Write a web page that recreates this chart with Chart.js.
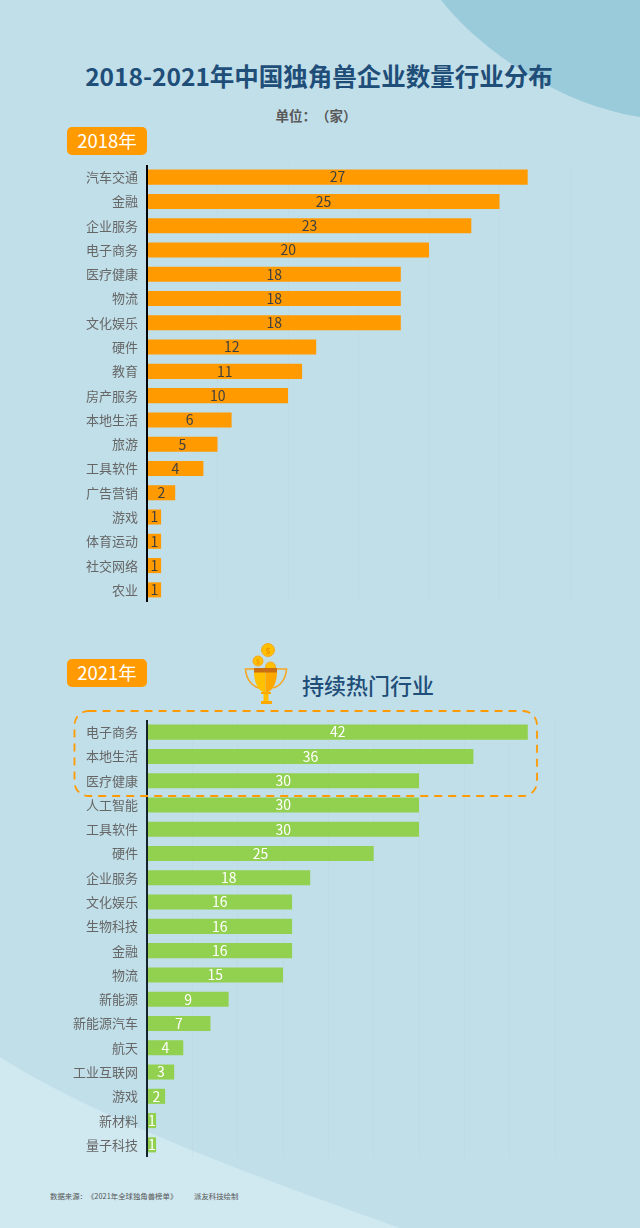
<!DOCTYPE html>
<html lang="zh-CN">
<head>
<meta charset="utf-8">
<script src="https://cdn.jsdelivr.net/npm/chart.js@4/dist/chart.umd.min.js"></script>
<style>
  html,body{margin:0;padding:0;background:#c1dfe9;}
  body{position:relative;width:640px;height:1228px;overflow:hidden;font-family:"Noto Sans CJK SC","Noto Sans",sans-serif;}
  .abs{position:absolute;white-space:nowrap;}
  canvas{position:absolute;left:0;}
  .badge{left:67px;width:80px;height:28px;line-height:27px;background:#ff9a00;border-radius:5px;color:#fff;font-size:18.5px;text-align:center;}
  svg{position:absolute;left:0;top:0;}
</style>
</head>
<body>
<svg width="640" height="1228" style="z-index:0">
  <path d="M441 0 C480 50 560 105 640 117 L640 0 Z" fill="#9acbdb"/>
  <path d="M0 1057 C90 1115 250 1175 400 1228 L0 1228 Z" fill="#d0e8f0"/>
</svg>

<div class="abs" id="title" style="left:0;width:638px;top:58px;text-align:center;font-size:24.5px;line-height:36px;font-weight:700;color:#1f4e79;z-index:2">2018-2021年中国独角兽企业数量行业分布</div>
<div class="abs" style="left:0;width:632px;top:104px;text-align:center;font-size:13.5px;line-height:22px;font-weight:700;color:#595959;text-spacing-trim:space-all;z-index:2">单位：（家）</div>
<div class="abs badge" style="top:127px;z-index:2">2018年</div>
<div class="abs badge" style="top:659px;z-index:2">2021年</div>
<div class="abs" style="left:302px;top:667px;font-size:22px;line-height:34px;font-weight:500;color:#1f4e79;z-index:2">持续热门行业</div>
<div class="abs" style="left:50px;top:1190px;font-size:7.4px;line-height:12px;color:#555;text-spacing-trim:space-all;z-index:2">数据来源：《2021年全球独角兽榜单》</div>
<div class="abs" style="left:194px;top:1190px;font-size:7.4px;line-height:12px;color:#555;z-index:2">派友科技绘制</div>

<canvas id="c2018" width="640" height="437" style="top:165px;z-index:1"></canvas>
<canvas id="c2021" width="640" height="437" style="top:720px;z-index:1"></canvas>

<svg width="640" height="1228" style="z-index:3;pointer-events:none">
  <rect x="74.5" y="711" width="462.5" height="85" rx="14" ry="14" fill="none" stroke="#ff9a00" stroke-width="1.8" stroke-dasharray="8 6"/>
  <!-- trophy -->
  <circle cx="270.5" cy="667" r="5" fill="#ffc000" stroke="#f5a623" stroke-width="1"/>
  <circle cx="258" cy="661" r="5" fill="#ffc000" stroke="#f5a623" stroke-width="1"/>
  <circle cx="268" cy="650" r="6.5" fill="#ffc000" stroke="#f5a623" stroke-width="1"/>
  <path d="M254 669 H245.5 C246 678 251 686 259 688 M277 669 H286.5 C286 678 281 686 273 688" fill="none" stroke="#f5a623" stroke-width="1.6"/>
  <path d="M254 672 H265.5 V692 H263 C258 690 254 682 254 672 Z" fill="#ffc000"/>
  <path d="M265.5 672 H277 C277 682 273 690 268 692 H265.5 Z" fill="#ffa800"/>
  <rect x="254" y="668" width="23" height="4.5" fill="#c96f12"/>
  <rect x="263.5" y="692" width="5" height="9" fill="#ffc000"/>
  <rect x="261" y="692" width="10" height="2" fill="#ffa800"/>
  <rect x="261" y="701" width="11" height="3" fill="#ffa800"/>
  <text x="268" y="653.5" font-size="9" text-anchor="middle" fill="#f08c00" font-family="Noto Sans">$</text>
  <text x="258" y="664" font-size="7" text-anchor="middle" fill="#f08c00" font-family="Noto Sans">$</text>
</svg>

<script>
const categories2018 = ["汽车交通","金融","企业服务","电子商务","医疗健康","物流","文化娱乐","硬件","教育","房产服务","本地生活","旅游","工具软件","广告营销","游戏","体育运动","社交网络","农业"];
const values2018 = [27,25,23,20,18,18,18,12,11,10,6,5,4,2,1,1,1,1];
const categories2021 = ["电子商务","本地生活","医疗健康","人工智能","工具软件","硬件","企业服务","文化娱乐","生物科技","金融","物流","新能源","新能源汽车","航天","工业互联网","游戏","新材料","量子科技"];
const values2021 = [42,36,30,30,30,25,18,16,16,16,15,9,7,4,3,2,1,1];

const barLabels = {
  id: "barLabels",
  afterDatasetsDraw(chart, args, opts) {
    const ctx = chart.ctx;
    const meta = chart.getDatasetMeta(0);
    ctx.save();
    ctx.font = '14px "Noto Sans CJK SC"';
    ctx.fillStyle = opts.color;
    ctx.textAlign = "center";
    ctx.textBaseline = "middle";
    meta.data.forEach((el, i) => {
      ctx.fillText(String(chart.data.datasets[0].data[i]), (el.x + el.base) / 2, el.y);
    });
    ctx.restore();
  }
};

function makeChart(id, labels, data, color, axisMax, rightPad, labelColor, axisColor) {
  return new Chart(document.getElementById(id), {
    type: "bar",
    data: { labels, datasets: [{ data, backgroundColor: color, barPercentage: 0.62, categoryPercentage: 1 }] },
    options: {
      indexAxis: "y",
      responsive: false,
      animation: false,
      layout: { autoPadding: false, padding: { left: 0, right: rightPad, top: 0, bottom: 0 } },
      plugins: { legend: { display: false }, tooltip: { enabled: false }, barLabels: { color: labelColor } },
      scales: {
        x: {
          min: 0, max: axisMax,
          ticks: { display: false, stepSize: 5 },
          grid: { color: "rgba(185,195,200,0.16)", lineWidth: 1, drawTicks: false, tickLength: 0 },
          border: { display: false },
          afterFit(s) { s.height = 0; s.paddingLeft = 0; s.paddingRight = 0; }
        },
        y: {
          ticks: { color: "#666666", font: { family: '"Noto Sans CJK SC"', size: 13 }, padding: 9, autoSkip: false },
          grid: { display: false, drawTicks: false, tickLength: 0 },
          border: { display: true, color: axisColor, width: 2, z: 1 },
          afterFit(s) { s.width = 147; s.paddingTop = 0; s.paddingBottom = 0; }
        }
      }
    },
    plugins: [barLabels]
  });
}

makeChart("c2018", categories2018, values2018, "#ff9a00", 30, 70, "#404040", "#000000");
makeChart("c2021", categories2021, values2021, "#92d050", 45, 85, "#ffffff", "#14232a");
</script>
</body>
</html>
